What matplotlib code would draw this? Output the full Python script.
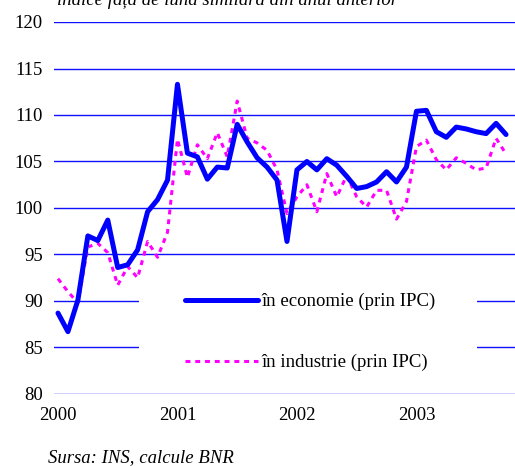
import numpy as np
import matplotlib.pyplot as plt
from matplotlib.patches import Rectangle

plt.rcParams['font.family'] = ['Liberation Serif', 'DejaVu Serif']

# lunar, ian. 2000 - oct. 2003
economie = [88.7, 86.7, 90.1, 97.0, 96.5, 98.7, 93.6, 93.9, 95.5, 99.6, 100.9, 103.0,
            113.3, 105.9, 105.5, 103.1, 104.4, 104.3, 109.0, 107.1, 105.4, 104.4, 103.0, 96.4,
            104.1, 105.0, 104.1, 105.3, 104.6, 103.4, 102.1, 102.3, 102.8, 103.9, 102.8, 104.4,
            110.4, 110.5, 108.2, 107.6, 108.7, 108.5, 108.2, 108.0, 109.1, 107.9]
industrie = [92.4, 91.0, 89.8, 95.8, 96.2, 95.2, 91.7, 93.7, 92.5, 96.4, 94.7, 97.4,
             107.4, 103.3, 106.8, 105.3, 108.1, 105.5, 111.5, 107.5, 107.0, 106.2, 104.1, 99.4,
             101.2, 102.5, 99.6, 103.7, 101.2, 103.5, 101.2, 100.1, 101.9, 101.9, 98.8, 100.7,
             106.6, 107.3, 105.2, 104.1, 105.4, 104.8, 104.1, 104.3, 107.5, 105.8]
year_labels = ['2000', '2001', '2002', '2003']
y_ticks = [80, 85, 90, 95, 100, 105, 110, 115, 120]

months = np.arange(len(economie))

fig = plt.figure(figsize=(5.15, 4.66), dpi=100)
ax = fig.add_axes([54 / 515, 1 - 394 / 466, 461 / 515, 372 / 466])

for v in y_ticks:
    ax.axhline(v, color='#1010ff', lw=1.0, zorder=1)

# fundal alb sub legenda
ax.add_patch(Rectangle(((139 - 54) / 461, (394 - 385) / 372), (477 - 139) / 461, (385 - 268) / 372,
                       transform=ax.transAxes, facecolor='white', edgecolor='none', zorder=2))

ax.plot(months, economie, color='#0000ff', lw=3.6, solid_joinstyle='round',
        solid_capstyle='round', zorder=4, label='în economie (prin IPC)')
ax.plot(months, industrie, color='#ff00ff', lw=2.2, linestyle=(0, (1.6, 1.6)),
        zorder=3, label='în industrie (prin IPC)')

ax.set_xlim(-0.4, 45.9)
ax.set_ylim(80, 120)
ax.set_yticks(y_ticks)
ax.set_yticklabels([str(v) for v in y_ticks], fontsize=13.5)
ax.set_xticks([0, 12, 24, 36])
ax.set_xticklabels(year_labels, fontsize=13.5)
ax.tick_params(length=0, pad=8)
ax.tick_params(axis='x', pad=9)
for s in ax.spines.values():
    s.set_visible(False)

ax.legend(loc='upper left', bbox_to_anchor=((185 - 54) / 461, (394 - 293) / 372), frameon=False,
          fontsize=13.5, handlelength=3.9, handletextpad=0.15, labelspacing=2.32,
          borderpad=0, borderaxespad=0)

fig.text(57 / 515, 1 - 5 / 466, 'indice față de luna similară din anul anterior',
         fontsize=13.5, style='italic', va='baseline')
fig.text(48 / 515, 1 - 462 / 466, 'Sursa: INS, calcule BNR',
         fontsize=13.5, style='italic', va='baseline')

fig.savefig('out.png', dpi=100)
